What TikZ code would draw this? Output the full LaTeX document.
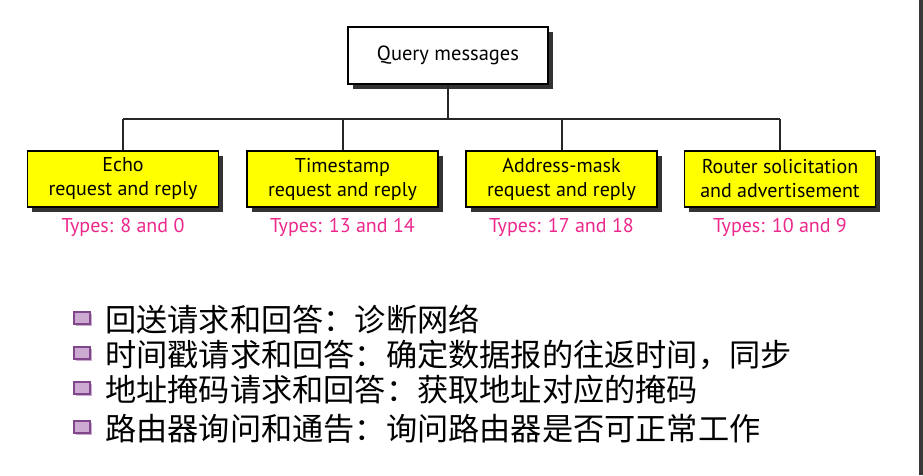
\documentclass[tikz,border=0pt]{standalone}
\usepackage{fontspec}
\setmainfont{PT Sans}
\newfontfamily\cjk{Noto Sans CJK SC}
\usetikzlibrary{shadows}
\definecolor{typepink}{RGB}{236,40,140}
\definecolor{boxyellow}{RGB}{255,255,0}
\definecolor{bulletpurple}{RGB}{130,70,140}
\definecolor{bulletlight}{RGB}{205,170,210}
\begin{document}
\begin{tikzpicture}[x=1pt,y=-1pt,
  sbox/.style={draw=black,line width=1.3pt,align=center,inner sep=0pt,
    minimum width=191pt,minimum height=56pt,fill=boxyellow,
    font=\fontsize{20}{24}\selectfont,
    drop shadow={shadow xshift=4.5pt,shadow yshift=-4.5pt,fill=black!80,opacity=1}},
  conn/.style={line width=2pt,black!85},
  typelbl/.style={text=typepink,font=\fontsize{20}{22}\selectfont},
  cjkline/.style={anchor=west,inner sep=0pt,font=\cjk\fontsize{31.2}{34}\selectfont},
  bulletbox/.style={draw=bulletpurple,line width=2.4pt,fill=bulletlight,inner sep=0pt,
    minimum width=16pt,minimum height=12pt,
    drop shadow={shadow xshift=1.5pt,shadow yshift=-2pt,fill=bulletpurple!45,opacity=1}}]
\useasboundingbox (0,0) rectangle (923,475);
\fill[white] (0,0) rectangle (923,475);
\fill[black!78] (919,0) rectangle (923,475);

\node[sbox,fill=white,minimum width=200pt,minimum height=57pt,font=\fontsize{20.5}{24}\selectfont] (q) at (448,55.5) {Query messages};
\node[sbox] (e) at (123,179) {Echo\\request and reply};
\node[sbox] (t) at (342.5,179) {Timestamp\\request and reply};
\node[sbox] (a) at (561.5,179) {Address-mask\\request and reply};
\node[sbox] (r) at (780,179) {Router solicitation\\and advertisement};

\coordinate (busL) at (123,119);
\coordinate (busR) at (780,119);
\draw[conn] (busL) -- (busR);
\draw[conn] (q.south) -- (q.south |- busL);
\draw[conn] (e.north) -- (e.north |- busL);
\draw[conn] (t.north) -- (t.north |- busL);
\draw[conn] (a.north) -- (a.north |- busL);
\draw[conn] (r.north) -- (r.north |- busL);

\node[typelbl] (te) at (123,227) {Types: 8 and 0};
\node[typelbl] (tt) at (342.5,227) {Types: 13 and 14};
\node[typelbl] (ta) at (561.5,227) {Types: 17 and 18};
\node[typelbl] (tr) at (780,227) {Types: 10 and 9};

\node[bulletbox] (b1) at (82,318) {};
\node[bulletbox] (b2) at (82,353) {};
\node[bulletbox] (b3) at (82,388) {};
\node[bulletbox] (b4) at (82,427) {};

\node[cjkline] (l1) at (105,320) {回送请求和回答：诊断网络};
\node[cjkline] (l2) at (105,355) {时间戳请求和回答：确定数据报的往返时间，同步};
\node[cjkline] (l3) at (105,390) {地址掩码请求和回答：获取地址对应的掩码};
\node[cjkline] (l4) at (105,429) {路由器询问和通告：询问路由器是否可正常工作};
\end{tikzpicture}
\end{document}
